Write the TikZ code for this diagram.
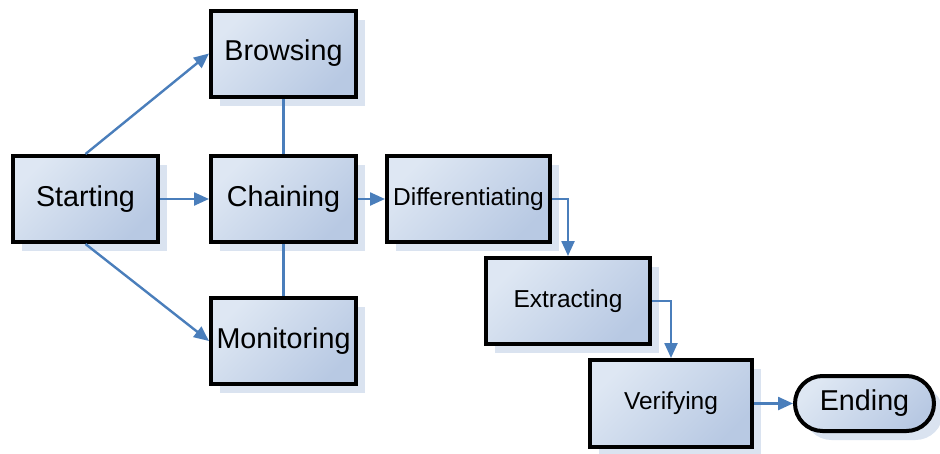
\documentclass[tikz,border=0pt]{standalone}
\usepackage{fontspec}
\setmainfont{Liberation Sans}
\usetikzlibrary{arrows.meta,shadows}
\definecolor{flowblue}{RGB}{74,126,187}
\definecolor{boxlight}{RGB}{222,231,243}
\definecolor{boxdark}{RGB}{184,201,227}
\definecolor{shadowblue}{RGB}{218,227,240}
\begin{document}
\begin{tikzpicture}[x=1pt, y=-1pt,
    stage/.style={draw=black, line width=4pt, left color=boxlight, right color=boxdark,
      shading angle=45, minimum width=145pt, minimum height=86pt, inner sep=0pt,
      drop shadow={shadow xshift=9pt, shadow yshift=-9pt, fill=shadowblue, opacity=1}},
    big/.style={font=\fontsize{28.7}{34}\selectfont},
    small/.style={font=\fontsize{24.5}{30}\selectfont},
    link/.style={draw=flowblue, line width=2.4pt},
    flow/.style={link, -{Triangle[length=15pt,width=13pt]}}]
    \useasboundingbox (0, 0) rectangle (940, 453);
    \node [stage, big] (start) at (85.5, 199) {Starting};
    \node [stage, big] (browse) at (283.5, 53.5) {Browsing};
    \node [stage, big] (chain) at (283.5, 199) {Chaining};
    \node [stage, big] (monitor) at (283.5, 341) {Monitoring};
    \node [stage, small, minimum width=163pt] (diff) at (468.5, 199) {Differentiating};
    \node [stage, small, minimum width=164pt] (extract) at (568, 301) {Extracting};
    \node [stage, small, minimum width=162pt, minimum height=87pt] (verify) at (671, 403.5) {Verifying};
    \node [stage, big, minimum width=139pt, minimum height=55pt, rounded corners=27.5pt] (ending) at (864.5, 403.5) {Ending};
    \draw [flow] (start.north) -- (browse.west);
    \draw [flow] (start.east) -- (chain.west);
    \draw [flow] (start.south) -- (monitor.west);
    \draw [link] (chain.north) -- (browse.south);
    \draw [link] (chain.south) -- (monitor.north);
    \draw [flow] (chain.east) -- (diff.west);
    \draw [flow] (diff.east) -| (extract.north);
    \draw [flow] (extract.east) -| (verify.north);
    \draw [flow] (verify.east) -- (ending.west);
\end{tikzpicture}
\end{document}
